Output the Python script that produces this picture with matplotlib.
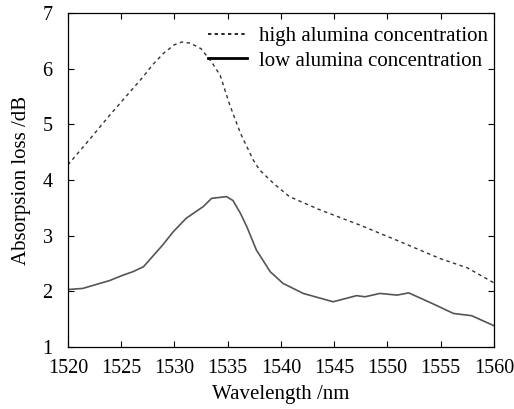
import matplotlib
matplotlib.use("Agg")
import matplotlib.pyplot as plt
from matplotlib.lines import Line2D

# wavelength (nm) / absorption loss (dB)
high_wl = [1520, 1522, 1524, 1526, 1527, 1528, 1529, 1530, 1530.7, 1531.5, 1532.5,
           1533.5, 1534.3, 1535.2, 1536.2, 1537.4, 1538.0, 1539.3, 1540.8,
           1543.7, 1547.4, 1551.2, 1554.9, 1557.5, 1560]
high_loss = [4.27, 4.72, 5.18, 5.62, 5.84, 6.08, 6.28, 6.43, 6.48, 6.46, 6.36,
             6.12, 5.88, 5.35, 4.84, 4.36, 4.18, 3.94, 3.70,
             3.46, 3.19, 2.89, 2.59, 2.42, 2.15]

low_wl = [1520, 1521.4, 1523, 1523.9, 1525.2, 1526.1, 1527.1, 1528.9, 1529.9,
          1531.1, 1532.7, 1533.5, 1534.9, 1535.5, 1536.2, 1536.8, 1537.7, 1539.0,
          1540.2, 1542.1, 1544.9, 1547.1, 1547.9, 1549.3, 1550.9, 1552.0,
          1554.2, 1556.2, 1557.9, 1560]
low_loss = [2.03, 2.05, 2.14, 2.19, 2.29, 2.35, 2.44, 2.83, 3.07,
            3.31, 3.52, 3.67, 3.70, 3.63, 3.40, 3.16, 2.74, 2.35,
            2.14, 1.96, 1.81, 1.92, 1.90, 1.96, 1.93, 1.97,
            1.78, 1.60, 1.56, 1.38]

plt.rcParams["font.family"] = ["Liberation Serif", "DejaVu Serif"]

fig = plt.figure(figsize=(5.14, 4.09), dpi=100)
ax = fig.add_axes([0.132, 0.152, 0.829, 0.816])

ax.plot(high_wl, high_loss, color="#333333", lw=1.0, linestyle=(0, (2.5, 2.5)))
ax.plot(low_wl, low_loss, color="#555555", lw=1.2)

ax.set_xlim(1520, 1560)
ax.set_ylim(1, 7)
ax.set_xticks(range(1520, 1561, 5))
ax.set_yticks(range(1, 8))
ax.tick_params(direction="in", top=True, right=True, length=4, width=0.8,
               labelsize=14.5)
ax.tick_params(axis="x", pad=9)
ax.tick_params(axis="y", pad=11)
for s in ax.spines.values():
    s.set_linewidth(0.9)

ax.set_xlabel("Wavelength /nm", fontsize=15, labelpad=5)
ax.set_ylabel("Absorpsion loss /dB", fontsize=15, labelpad=8)

handles = [Line2D([], [], color="black", lw=1.2, linestyle=(0, (2, 2))),
           Line2D([], [], color="black", lw=2)]
ax.legend(handles, ["high alumina concentration", "low alumina concentration"],
          loc="upper right", bbox_to_anchor=(1.0, 0.979), frameon=False,
          fontsize=15, handlelength=1.9, handletextpad=0.55,
          borderaxespad=0.1, labelspacing=0.25, borderpad=0.2)

fig.savefig("out.png", dpi=100)
